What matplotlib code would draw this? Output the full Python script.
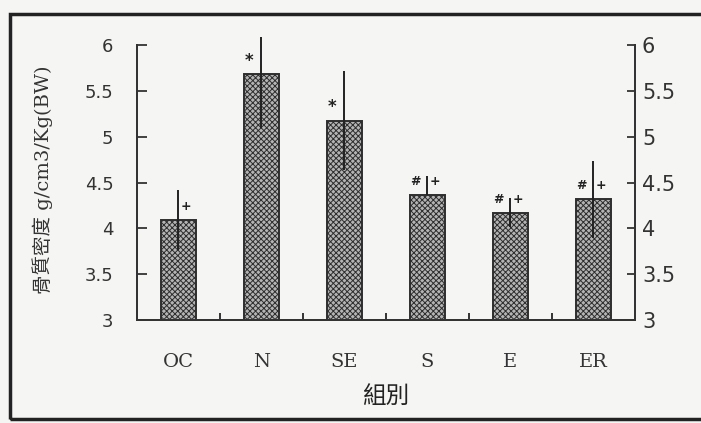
import numpy as np
import matplotlib
matplotlib.use('Agg')
import matplotlib.pyplot as plt
from matplotlib.patches import Rectangle

# data
groups = ['OC', 'N', 'SE', 'S', 'E', 'ER']
means = [4.09, 5.68, 5.17, 4.36, 4.17, 4.32]
err_low = [0.33, 0.58, 0.53, 0.0, 0.16, 0.43]
err_high = [0.33, 0.41, 0.55, 0.21, 0.16, 0.42]
left_marks = ['', '*', '*', '#', '#', '#']
right_marks = ['+', '', '', '+', '+', '+']
yticks = [3, 3.5, 4, 4.5, 5, 5.5, 6]
ytick_labels = ['3', '3.5', '4', '4.5', '5', '5.5', '6']

plt.rcParams['font.family'] = ['Noto Sans CJK TC', 'DejaVu Sans']
plt.rcParams['hatch.linewidth'] = 0.7
plt.rcParams['hatch.color'] = '#3a3a3a'

fig = plt.figure(figsize=(7.01, 4.23), dpi=100)
fig.patch.set_facecolor('#f5f5f3')
ax = fig.add_axes([0.1954, 0.2435, 0.7104, 0.650])
ax.set_facecolor('none')

xx = np.arange(len(groups)) + 0.5
ax.bar(xx, means, width=0.42, bottom=0, color='#b4b4b4', edgecolor='#2e2e2e',
       linewidth=1.4, hatch='xxxxxx', zorder=2)
ax.errorbar(xx, means, yerr=[err_low, err_high], fmt='none', ecolor='#222222',
            elinewidth=1.4, capsize=0, zorder=3, clip_on=False)

# significance marks
for i in range(len(groups)):
    if left_marks[i]:
        size = 12 if left_marks[i] == '*' else 9
        ax.text(xx[i] - 0.15, means[i] + 0.15, left_marks[i], ha='center', va='center',
                fontsize=size, fontweight='bold', color='#222222', family='DejaVu Sans')
    if right_marks[i]:
        ax.text(xx[i] + 0.09, means[i] + 0.15, right_marks[i], ha='center', va='center',
                fontsize=9, fontweight='bold', color='#222222', family='DejaVu Sans')

ax.set_xlim(0, 6)
ax.set_ylim(3, 6)
ax.set_xticks(xx)
ax.set_xticklabels(groups, family='DejaVu Serif', fontsize=14, color='#333333')
ax.set_xticks(np.arange(1, 6), minor=True)
ax.tick_params(axis='x', which='major', length=0, pad=24)
ax.tick_params(axis='x', which='minor', direction='in', length=5, width=1.4, color='#333333')

ax.set_yticks(yticks)
ax.set_yticklabels(ytick_labels, family='DejaVu Sans', fontsize=13, color='#333333')
ax.tick_params(axis='y', direction='in', length=7, width=1.3, color='#333333', pad=17)

# right axis with the same scale
ax2 = ax.twinx()
ax2.set_ylim(ax.get_ylim())
ax2.set_yticks(yticks)
ax2.set_yticklabels(ytick_labels, family='DejaVu Sans', fontsize=15, color='#333333')
ax2.tick_params(axis='y', direction='in', length=6, width=1.3, color='#333333', pad=5)

for a in (ax, ax2):
    for s in ['left', 'right', 'bottom']:
        a.spines[s].set_linewidth(1.4)
        a.spines[s].set_color('#333333')
    a.spines['top'].set_visible(False)

ax.set_ylabel('骨質密度 g/cm3/Kg(BW)', fontsize=14, color='#333333',
              family=['DejaVu Serif', 'Noto Sans CJK TC'])
ax.yaxis.set_label_coords(-0.168, 0.51)
ax.set_xlabel('組別', fontsize=17, color='#222222')
ax.xaxis.set_label_coords(0.5, -0.235)

# frame of the scanned figure
fig.patches.append(Rectangle((0.014, 0.009), 1.2, 0.958, transform=fig.transFigure,
                             fill=False, edgecolor='#222222', linewidth=2.5))

plt.savefig('out.png', dpi=100)
